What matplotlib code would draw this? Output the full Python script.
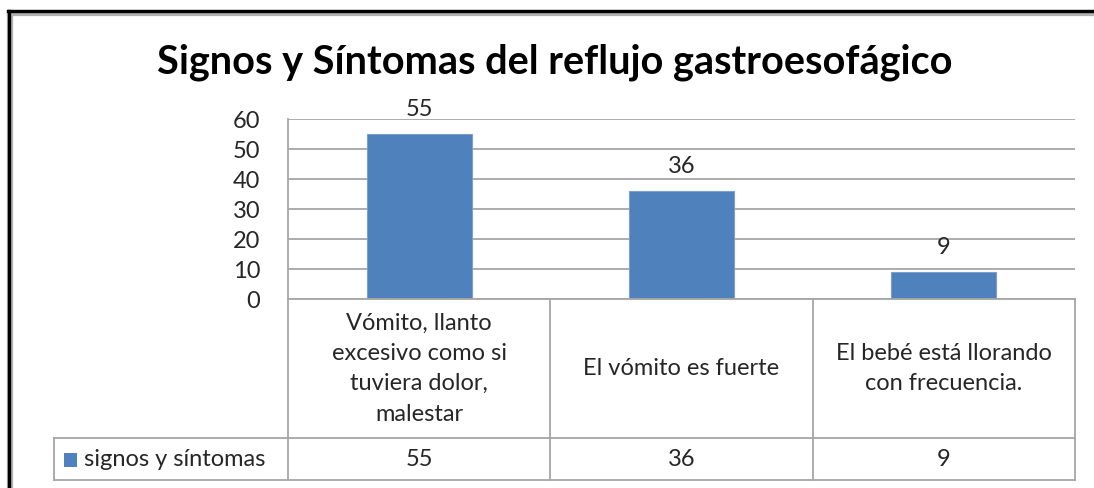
import matplotlib
matplotlib.use("Agg")
import matplotlib.pyplot as plt
from matplotlib.lines import Line2D
from matplotlib.patches import Rectangle
import matplotlib.transforms as mtransforms

title = "Signos y Síntomas del reflujo gastroesofágico"
categories = ["Vómito, llanto\nexcesivo como si\ntuviera dolor,\nmalestar",
              "El vómito es fuerte",
              "El bebé está llorando\ncon frecuencia."]
values = [55, 36, 9]
series_name = "signos y síntomas"
yticks = [0, 10, 20, 30, 40, 50, 60]

W, H = 1094, 488
FONT = "Lato"
TXT = "#262626"
GRID = "#a6a6a6"
BAR = "#4f81bd"
FS = 17

fig = plt.figure(figsize=(W / 100, H / 100), dpi=100)
fig.patch.set_facecolor("white")

def fx(px):
    return px / W

def fy(py):
    return 1 - py / H

# outer frame (chart border)
fig.add_artist(Line2D([fx(10), fx(10)], [fy(13), fy(H + 5)], color="#b0b0b0", lw=4.5, transform=fig.transFigure))
fig.add_artist(Line2D([fx(10), fx(W + 5)], [fy(13), fy(13)], color="#b0b0b0", lw=4.5, transform=fig.transFigure))
fig.add_artist(Line2D([fx(9), fx(9)], [fy(11), fy(H + 5)], color="black", lw=2.4, transform=fig.transFigure))
fig.add_artist(Line2D([fx(8), fx(W + 5)], [fy(11), fy(11)], color="black", lw=2.4, transform=fig.transFigure))

# plot area
left, right, top, bottom = 288, 1075, 119, 299
ax = fig.add_axes([fx(left), fy(bottom), fx(right) - fx(left), fy(top) - fy(bottom)])
x = list(range(len(values)))
ax.bar(x, values, width=0.4, color=BAR, edgecolor="#7ba0cf", linewidth=0.8, zorder=3)
ax.set_xlim(-0.5, len(values) - 0.5)
ax.set_ylim(0, 60)
ax.set_yticks(yticks)
ax.set_yticklabels([str(t) for t in yticks], fontsize=FS, color=TXT, family=FONT)
ax.tick_params(axis="y", length=0, pad=20)
ax.tick_params(axis="x", length=0, labelbottom=False)
for t in yticks:
    ax.axhline(t, color=GRID, lw=1.3, zorder=1)
for s in ["top", "right", "bottom"]:
    ax.spines[s].set_visible(False)
ax.spines["left"].set_color(GRID)
ax.spines["left"].set_linewidth(1.3)
for xi, v in zip(x, values):
    ax.annotate(str(v), (xi, v), xytext=(0, 13), textcoords="offset points",
                ha="center", va="baseline", fontsize=FS, color=TXT, family=FONT)

# data table below axes
trans = mtransforms.blended_transform_factory(ax.transData, fig.transFigure)
hdr_top, hdr_bot, row_bot = fy(299), fy(438), fy(480)
leg_left = 54
px_per_cat = (right - left) / len(values)
leg_left_data = -0.5 - (left - leg_left) / px_per_cat

def hline(x0, x1, yv):
    fig.add_artist(Line2D([x0, x1], [yv, yv], color=GRID, lw=1.3, transform=trans))

def vline(xv, y0, y1):
    fig.add_artist(Line2D([xv, xv], [y0, y1], color=GRID, lw=1.3, transform=trans))

n = len(values)
hline(-0.5, n - 0.5, hdr_top)
hline(leg_left_data, n - 0.5, hdr_bot)
hline(leg_left_data, n - 0.5, row_bot)
for i in range(n + 1):
    vline(i - 0.5, hdr_top, row_bot)
vline(leg_left_data, hdr_bot, row_bot)

for xi, cat, v in zip(x, categories, values):
    fig.text(xi, (hdr_top + hdr_bot) / 2, cat, transform=trans, ha="center", va="center",
             fontsize=FS, color=TXT, family=FONT, linespacing=1.55)
    fig.text(xi, (hdr_bot + row_bot) / 2, str(v), transform=trans, ha="center", va="center",
             fontsize=FS, color=TXT, family=FONT)

# legend key in table
fig.add_artist(Rectangle((fx(64), fy(467)), fx(13), fy(453) - fy(467), facecolor=BAR,
                         edgecolor="none", transform=fig.transFigure))
fig.text(fx(84), (hdr_bot + row_bot) / 2, series_name, ha="left", va="center",
         fontsize=FS, color=TXT, family=FONT)

fig.text(fx(555), fy(62), title, ha="center", va="center", fontsize=28.5,
         fontweight="bold", color="black", family=FONT)

fig.savefig("out.png", dpi=100)
